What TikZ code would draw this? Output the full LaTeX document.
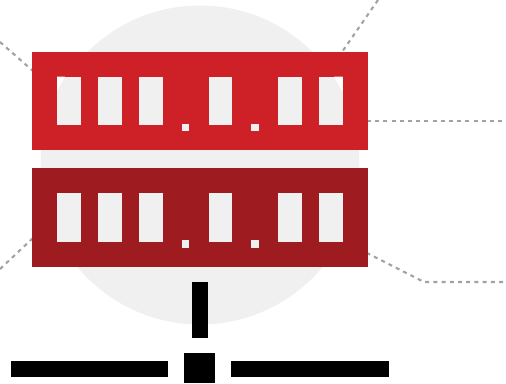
\documentclass[tikz,border=0pt]{standalone}
\usepackage{tikz}
\definecolor{rackred}{HTML}{CD2027}
\definecolor{rackdark}{HTML}{9E1C20}
\definecolor{paleback}{HTML}{F0F0F0}
\definecolor{leadgray}{HTML}{A2A2A4}
\tikzset{
  box/.style={rectangle,inner sep=0pt,outer sep=0pt,minimum width=#1},
  rack/.style={box=335.4pt,minimum height=98.2pt,anchor=north west},
  slot/.style={box=23.6pt,minimum height=48.6pt,anchor=north west,fill=paleback},
  led/.style={box=7.6pt,minimum height=7.2pt,anchor=north west,fill=paleback},
  leader/.style={draw=leadgray,line width=2.1pt,dash pattern=on 4pt off 4.2pt},
  barpart/.style={fill=black,anchor=north west}
}
\begin{document}
\begin{tikzpicture}[x=1pt,y=-1pt]
\useasboundingbox (0,0) rectangle (506,383);
\fill[paleback] (200,165) circle (159.5);
% leaders
\coordinate (tl) at (0,42);
\coordinate (tlend) at (33,71);
\coordinate (tr) at (378,0);
\coordinate (trend) at (342,52);
\coordinate (mr) at (504,121);
\coordinate (mrend) at (367,121);
\coordinate (bl) at (0,269);
\coordinate (blend) at (33,238);
\coordinate (br) at (503,282);
\coordinate (brbend) at (424,282);
\coordinate (brend) at (367,253);
\draw[leader] (tl) -- (tlend);
\draw[leader] (tr) -- (trend);
\draw[leader] (mrend) -- (mr);
\draw[leader] (bl) -- (blend);
\draw[leader] (br) -- (brbend) -- (brend);
% racks
\node[rack,fill=rackred] (rackA) at (32.2,51.5) {};
\node[rack,fill=rackdark] (rackB) at (32.2,168.3) {};
\foreach \r/\y in {A/76.5,B/193.4}{
  \foreach \x [count=\i] in {57,98,139,208.5,278,319}
    \node[slot] (slot\r\i) at (\x,\y) {};
  \node[led] (led\r1) at (181.5,\y+47) {};
  \node[led] (led\r2) at (251.2,\y+47) {};
}
% circle edge showing through the outer slots
\fill[white] (57,76.5) -- (65,76.5) -- (57,91) -- cycle;
\fill[white] (334,76.5) -- (342.6,76.5) -- (342.6,92) -- cycle;
% network
\node[box=15.6pt,minimum height=55.4pt,barpart] (drop) at (192,282.3) {};
\node[box=31.4pt,minimum height=30pt,barpart] (hub) at (184,353.3) {};
\node[box=157.8pt,minimum height=15.4pt,barpart] (netL) at (10.6,361.2) {};
\node[box=157.8pt,minimum height=15.4pt,barpart] (netR) at (231,361.2) {};
\end{tikzpicture}
\end{document}
